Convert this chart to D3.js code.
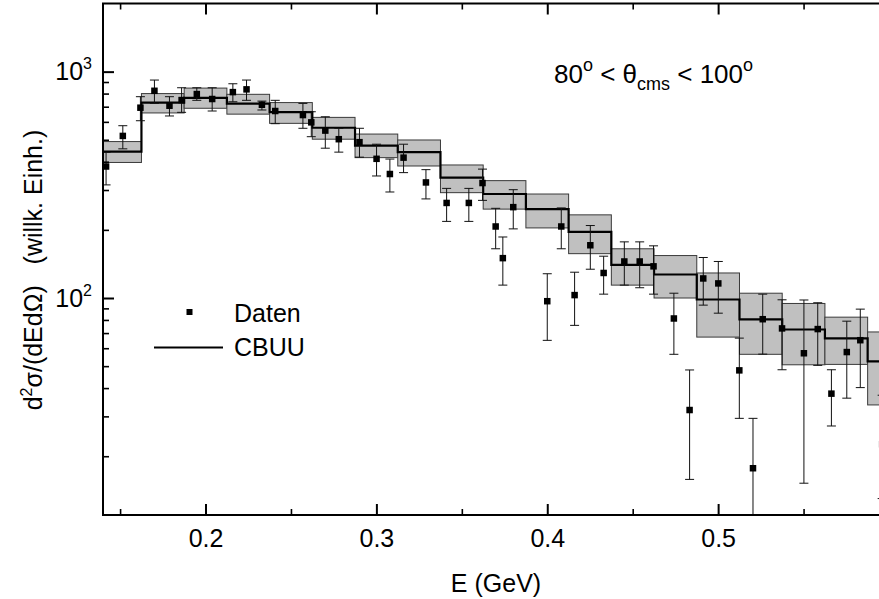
<!DOCTYPE html>
<html>
<head>
<meta charset="utf-8"/>
<title>CBUU - Daten</title>
<script src="https://d3js.org/d3.v7.min.js"></script>
<style>
  body { margin: 0; background: #fff; }
  svg { display: block; background: #fff; }
  text { font-family: "Liberation Sans", Arial, Helvetica, sans-serif; fill: #000; }
</style>
</head>
<body>
<svg width="879" height="599"></svg>
<script>
// CBUU histogram: bin centres (GeV), bin width, central value and band limits
var binE    = [0.15, 0.175, 0.2, 0.225, 0.25, 0.275, 0.3, 0.325, 0.35, 0.375,
               0.4, 0.425, 0.45, 0.475, 0.5, 0.525, 0.55, 0.575, 0.6];
var binW    = 0.025;
var cbuu    = [443, 730, 766, 723, 663, 565, 471, 441, 340, 288,
               247, 196, 140, 127, 98.5, 80.4, 72.6, 66.3, 52.5];
var cbuuLo  = [397, 657, 689, 649, 591, 503, 417, 383, 292, 247,
               204, 157, 114, 100, 67.2, 56.4, 50.7, 50.9, 33.7];
var cbuuHi  = [491, 800, 846, 794, 730, 628, 530, 499, 387, 330,
               288, 233, 165, 154, 129, 105, 94.6, 82.3, 70.8];

// Daten: energy, value, upper and lower end of the error bar
var datE  = [0.1418, 0.1516, 0.1619, 0.1701, 0.1789, 0.1860, 0.1949, 0.2039, 0.2160, 0.2240,
             0.2330, 0.2408, 0.2570, 0.2619, 0.2701, 0.2780, 0.2901, 0.3001, 0.3079, 0.3159,
             0.3290, 0.3411, 0.3541, 0.3621, 0.3698, 0.3740, 0.3801, 0.4000, 0.4082, 0.4160,
             0.4252, 0.4330, 0.4451, 0.4541, 0.4622, 0.4741, 0.4833, 0.4913, 0.5001, 0.5124,
             0.5204, 0.5261, 0.5374, 0.5502, 0.5583, 0.5663, 0.5753, 0.5832, 0.5960, 0.5970];
var datV  = [381, 520, 693, 823, 707, 749, 796, 757, 812, 835,
             714, 670, 643, 597, 549, 503, 488, 412, 353, 417,
             324, 263, 263, 322, 207, 150, 252, 96.8, 207, 103,
             171, 129, 145, 145, 138, 81.2, 32.0, 122, 116, 47.9,
             17.7, 80.6, 73.4, 57.0, 72.9, 37.8, 57.7, 65.1, 22.6, 70];
var datHi = [440, 577, 775, 918, 775, 849, 849, 849, 884, 918,
             741, 747, 724, 665, 632, 562, 562, 478, 411, 478,
             369, 305, 305, 371, 249, 186, 301, 128, 250, 130,
             209, 153, 177, 177, 170, 105, 48.1, 151, 145, 66.5,
             29.4, 104, 98.2, 98.0, 95.3, 48.2, 79.0, 89.3, 37.2, 101];
var datLo = [316, 456, 607, 724, 637, 661, 747, 670, 736, 747,
             677, 589, 562, 516, 459, 441, 419, 346, 294, 358,
             274, 218, 218, 270, 165, 114, 202, 65.0, 165, 75.7,
             134, 104, 114, 111, 104, 56.4, 15.8, 93.0, 85.7, 29.4,
             5, 56.5, 48.2, 15.2, 50.4, 27.2, 36.1, 40.2, 13, 48];

// axis ticks
var xMajor = [0.2, 0.3, 0.4, 0.5];
var xMinor = [0.15, 0.25, 0.35, 0.45, 0.55];
var yMajor = [100, 1000];
var yMinor = [20, 30, 40, 50, 60, 70, 80, 90, 200, 300, 400, 500, 600, 700, 800, 900];

var svg = d3.select("svg");
var padL = 103, padT = 3.5, padR = 889, padB = 515;

var x = d3.scaleLinear().domain([0.14, 0.6]).range([padL, padR]);
var y = d3.scaleLog().domain([11, 2000]).range([padB, padT]);

svg.append("clipPath").attr("id", "plotclip")
  .append("rect")
    .attr("x", padL).attr("y", padT)
    .attr("width", padR - padL).attr("height", padB - padT);

var plot = svg.append("g").attr("clip-path", "url(#plotclip)");

// CBUU bands
plot.append("g").selectAll("rect")
  .data(binE)
  .enter().append("rect")
    .attr("x", d => x(d - binW / 2))
    .attr("width", d => x(d + binW / 2) - x(d - binW / 2))
    .attr("y", (d, i) => y(cbuuHi[i]))
    .attr("height", (d, i) => y(cbuuLo[i]) - y(cbuuHi[i]))
    .attr("fill", "#c0c0c0")
    .attr("stroke", "#3a3a3a")
    .attr("stroke-width", 1);

// CBUU step line
var steps = binE.map((e, i) => [e - binW / 2, cbuu[i]]);
steps.push([binE[binE.length - 1] + binW / 2, cbuu[cbuu.length - 1]]);
var stepLine = d3.line()
  .x(d => x(d[0]))
  .y(d => y(d[1]))
  .curve(d3.curveStepAfter);
plot.append("path")
  .datum(steps)
  .attr("d", stepLine)
  .attr("fill", "none")
  .attr("stroke", "#000")
  .attr("stroke-width", 2.2);

// Daten with error bars
var cap = 4.5, sq = 6.5;
var pts = plot.append("g").selectAll("g")
  .data(datE)
  .enter().append("g");
pts.append("line")
  .attr("x1", d => x(d)).attr("x2", d => x(d))
  .attr("y1", (d, i) => y(datHi[i])).attr("y2", (d, i) => y(datLo[i]))
  .attr("stroke", "#111").attr("stroke-width", 1);
pts.append("line")
  .attr("x1", d => x(d) - cap).attr("x2", d => x(d) + cap)
  .attr("y1", (d, i) => y(datHi[i])).attr("y2", (d, i) => y(datHi[i]))
  .attr("stroke", "#111").attr("stroke-width", 1);
pts.append("line")
  .attr("x1", d => x(d) - cap).attr("x2", d => x(d) + cap)
  .attr("y1", (d, i) => y(datLo[i])).attr("y2", (d, i) => y(datLo[i]))
  .attr("stroke", "#111").attr("stroke-width", 1);
pts.append("rect")
  .attr("x", d => x(d) - sq / 2)
  .attr("y", (d, i) => y(datV[i]) - sq / 2)
  .attr("width", sq).attr("height", sq)
  .attr("fill", "#000");

// axes
function styleAxis(g) {
  g.select(".domain").remove();
  g.selectAll(".tick line").attr("stroke", "#000");
}
var bottomAxis = svg.append("g")
  .attr("transform", "translate(0," + padB + ")")
  .call(d3.axisBottom(x).tickValues(xMajor).tickSize(-11).tickPadding(14)
        .tickFormat(d3.format(".1f")))
  .call(styleAxis);
bottomAxis.selectAll(".tick line").attr("stroke-width", 2);
bottomAxis.selectAll("text")
  .attr("font-size", 25)
  .attr("font-family", "Liberation Sans, Arial, sans-serif");

svg.append("g")
  .attr("transform", "translate(0," + padB + ")")
  .call(d3.axisBottom(x).tickValues(xMinor).tickSize(-6).tickFormat(""))
  .call(styleAxis)
  .selectAll(".tick line").attr("stroke-width", 1.6);

svg.append("g")
  .attr("transform", "translate(0," + padT + ")")
  .call(d3.axisTop(x).tickValues(xMajor).tickSize(-11).tickFormat(""))
  .call(styleAxis)
  .selectAll(".tick line").attr("stroke-width", 2);
svg.append("g")
  .attr("transform", "translate(0," + padT + ")")
  .call(d3.axisTop(x).tickValues(xMinor).tickSize(-6).tickFormat(""))
  .call(styleAxis)
  .selectAll(".tick line").attr("stroke-width", 1.6);

var leftAxis = svg.append("g")
  .attr("transform", "translate(" + padL + ",0)")
  .call(d3.axisLeft(y).tickValues(yMajor).tickSize(-11).tickPadding(11)
        .tickFormat(() => ""))
  .call(styleAxis);
leftAxis.selectAll(".tick line").attr("stroke-width", 2);
leftAxis.selectAll("text")
  .attr("font-size", 25)
  .attr("font-family", "Liberation Sans, Arial, sans-serif")
  .each(function(d) {
    var t = d3.select(this);
    t.append("tspan").text("10");
    t.append("tspan").attr("font-size", 16).attr("dy", -11)
      .text(Math.round(Math.log10(d)));
  });

svg.append("g")
  .attr("transform", "translate(" + padL + ",0)")
  .call(d3.axisLeft(y).tickValues(yMinor).tickSize(-6).tickFormat(""))
  .call(styleAxis)
  .selectAll(".tick line").attr("stroke-width", 1.6);

// frame (right edge falls outside the picture)
svg.append("rect")
  .attr("x", padL).attr("y", padT)
  .attr("width", padR - padL).attr("height", padB - padT)
  .attr("fill", "none")
  .attr("stroke", "#000")
  .attr("stroke-width", 2);

// axis titles
svg.append("text")
  .attr("x", (padL + padR) / 2)
  .attr("y", 592)
  .attr("text-anchor", "middle")
  .attr("font-size", 25)
  .text("E (GeV)");

var yl = svg.append("text")
  .attr("transform", "translate(42,270) rotate(-90)")
  .attr("text-anchor", "middle")
  .attr("font-size", 25)
  .attr("xml:space", "preserve")
  .style("white-space", "pre");
yl.append("tspan").text("d");
yl.append("tspan").attr("font-size", 16).attr("dy", -10).text("2");
yl.append("tspan").attr("dy", 10).text("σ/(dEdΩ)   (willk. Einh.)");

// angle range
var ann = svg.append("text")
  .attr("x", 554).attr("y", 83)
  .attr("font-size", 26)
  .attr("xml:space", "preserve")
  .style("white-space", "pre");
ann.append("tspan").text("80");
ann.append("tspan").attr("font-size", 18).attr("dy", -12).text("o");
ann.append("tspan").attr("dy", 12).text(" < θ");
ann.append("tspan").attr("font-size", 18).attr("dy", 7).text("cms");
ann.append("tspan").attr("dy", -7).text(" < 100");
ann.append("tspan").attr("font-size", 18).attr("dy", -12).text("o");

// legend
var leg = svg.append("g");
leg.append("rect")
  .attr("x", 189.5 - 3).attr("y", 312 - 3)
  .attr("width", 6).attr("height", 6)
  .attr("fill", "#000");
leg.append("text")
  .attr("x", 234).attr("y", 321.5)
  .attr("font-size", 25)
  .text("Daten");
leg.append("line")
  .attr("x1", 154).attr("x2", 223)
  .attr("y1", 347.5).attr("y2", 347.5)
  .attr("stroke", "#000").attr("stroke-width", 2);
leg.append("text")
  .attr("x", 234).attr("y", 355.5)
  .attr("font-size", 25)
  .text("CBUU");
</script>
</body>
</html>
